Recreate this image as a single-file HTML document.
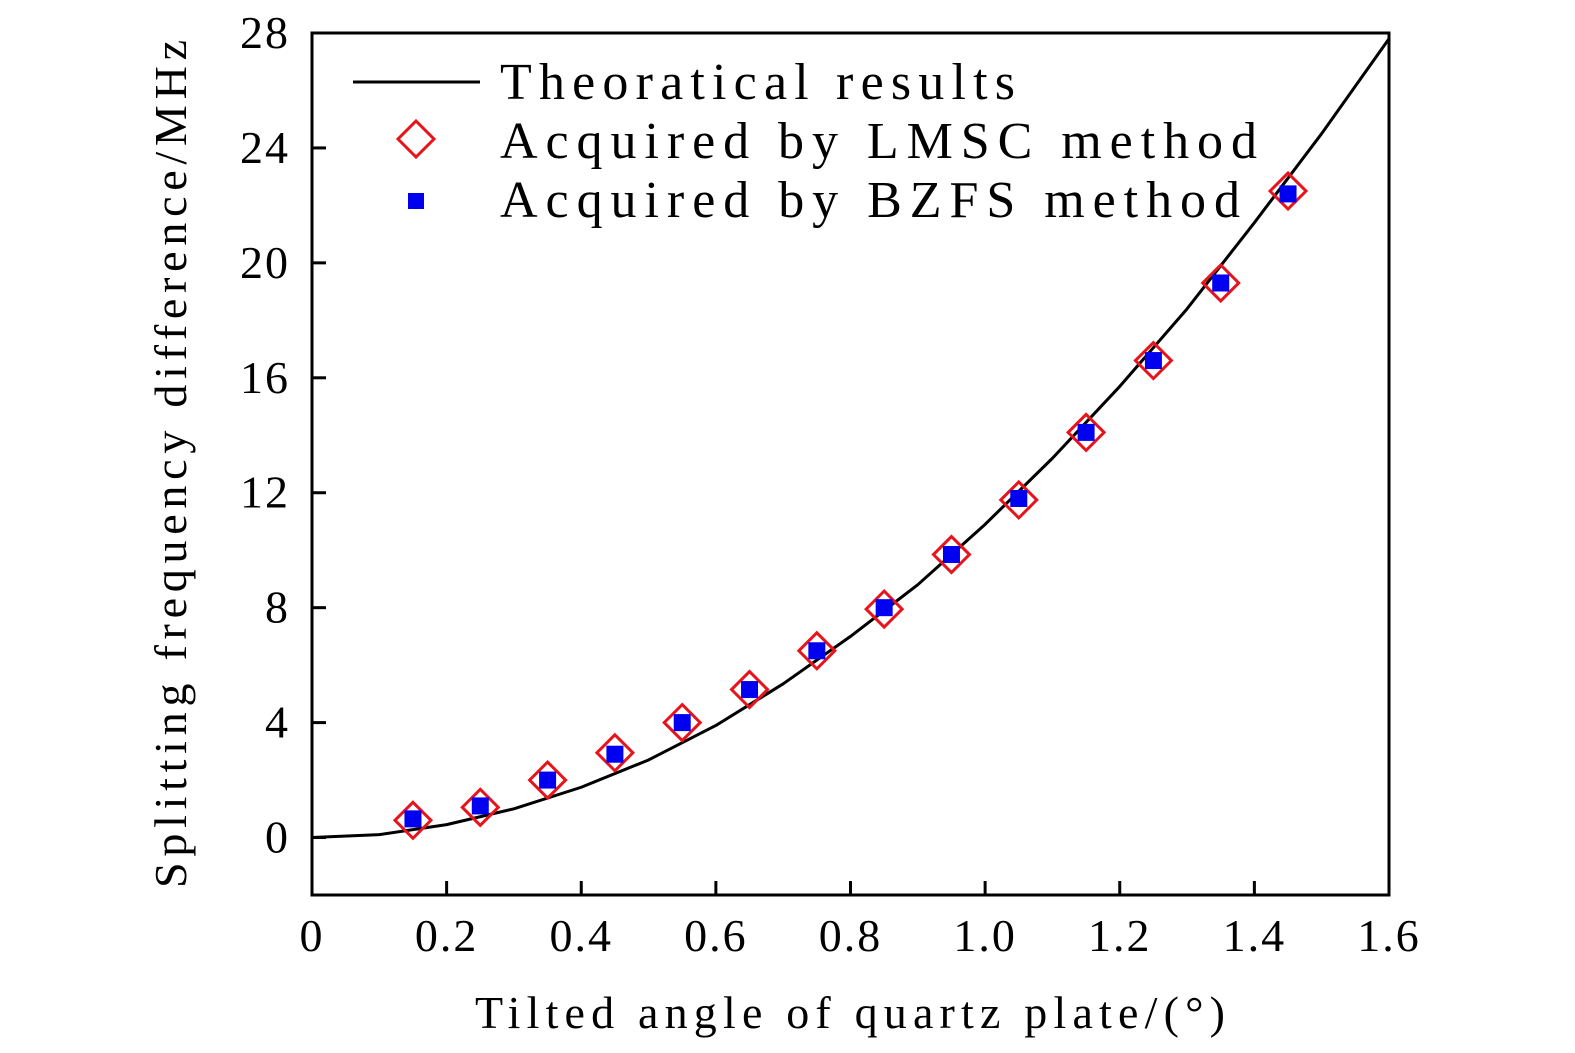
<!DOCTYPE html>
<html><head><meta charset="utf-8"><style>
html,body{margin:0;padding:0;background:#fff;}
svg{display:block;}
text{font-family:"Liberation Serif",serif;fill:#000;}
</style></head><body>
<svg id="chart" width="1575" height="1053" xmlns="http://www.w3.org/2000/svg">
<g id="plot"></g>
</svg>
<script>
const xTicks=[0,0.2,0.4,0.6,0.8,1.0,1.2,1.4,1.6];
const xTickLabels=["0","0.2","0.4","0.6","0.8","1.0","1.2","1.4","1.6"];
const yTicks=[0,4,8,12,16,20,24,28];
const curveX=[0,0.1,0.2,0.3,0.4,0.5,0.6,0.7,0.8,0.9,1.0,1.1,1.2,1.3,1.4,1.5,1.6];
const curveY=[0,0.1,0.45,1.0,1.75,2.7,3.9,5.35,7.0,8.8,10.9,13.2,15.7,18.4,21.4,24.5,27.8];
const ptX=[0.15,0.25,0.35,0.45,0.55,0.65,0.75,0.85,0.95,1.05,1.15,1.25,1.35,1.45];
const lmscY=[0.6,1.05,2.0,2.95,4.0,5.15,6.5,7.95,9.85,11.75,14.1,16.6,19.3,22.5];
const bzfsY=[0.65,1.1,2.0,2.9,4.0,5.15,6.5,8.0,9.85,11.8,14.1,16.6,19.3,22.4];

const L=312,R=1389,T=33,B=895;
const xs=v=>L+(v-0)/1.6*(R-L);
const ys=v=>B-(v+2)/30*(B-T);
const NS="http://www.w3.org/2000/svg";
const g=document.getElementById('plot');
function mk(tag,attrs,parent){const e=document.createElementNS(NS,tag);for(const k in attrs)e.setAttribute(k,attrs[k]);(parent||g).appendChild(e);return e;}

const frame=mk('rect',{x:L,y:T,width:R-L,height:B-T,fill:'none',stroke:'#000','stroke-width':3});



xTicks.forEach((v,i)=>{
  const t=mk('line',{x1:xs(v),x2:xs(v),y1:B,y2:B-14,stroke:'#000','stroke-width':3});
  
  
  const l=mk('text',{x:xs(v),y:951,'font-size':46,'text-anchor':'middle','letter-spacing':'2'});
  l.textContent=xTickLabels[i];
  
  
});
yTicks.forEach(v=>{
  const t=mk('line',{x1:L,x2:L+14,y1:ys(v),y2:ys(v),stroke:'#000','stroke-width':3});
  
  
  const l=mk('text',{x:290,y:ys(v)+15,'font-size':46,'text-anchor':'end','letter-spacing':'2'});
  l.textContent=String(v);
  
  
});

const xt=mk('text',{x:475,y:1028,'font-size':46,textLength:750,lengthAdjust:'spacing'});
xt.textContent='Tilted angle of quartz plate/(°)';


const yt=mk('text',{x:0,y:0,'font-size':46,textLength:848,lengthAdjust:'spacing',transform:'translate(186,888) rotate(-90)'});
yt.textContent='Splitting frequency difference/MHz';



const cp=mk('polyline',{points:curveX.map((x,i)=>xs(x)+','+ys(curveY[i])).join(' '),fill:'none',stroke:'#000','stroke-width':3,'stroke-linejoin':'round'});



ptX.forEach((x,i)=>{
  const cx=xs(x),cy=ys(lmscY[i]),d=18;
  const p=mk('polygon',{points:`${cx},${cy-d} ${cx+d},${cy} ${cx},${cy+d} ${cx-d},${cy}`,fill:'none',stroke:'#e8141c','stroke-width':3});
  
  
});
ptX.forEach((x,i)=>{
  const cx=xs(x),cy=ys(bzfsY[i]),s=17;
  const r=mk('rect',{x:cx-s/2,y:cy-s/2,width:s,height:s,fill:'#0000f0'});
  
  
});

const lg=mk('g',{});


const l1=mk('line',{x1:353,x2:480,y1:82,y2:82,stroke:'#000','stroke-width':3},lg);


const dm=mk('polygon',{points:'416,121 434,139 416,157 398,139',fill:'none',stroke:'#e8141c','stroke-width':3},lg);


const sq=mk('rect',{x:408,y:193,width:16,height:16,fill:'#0000f0'},lg);


[['Theoratical results',99,515],['Acquired by LMSC method',158,757],['Acquired by BZFS method',217,740]].forEach(([s,y,w])=>{
  const t=mk('text',{x:500,y:y,'font-size':52,textLength:w,lengthAdjust:'spacing'},lg);
  t.textContent=s;
  
  
});
</script>
</body></html>
